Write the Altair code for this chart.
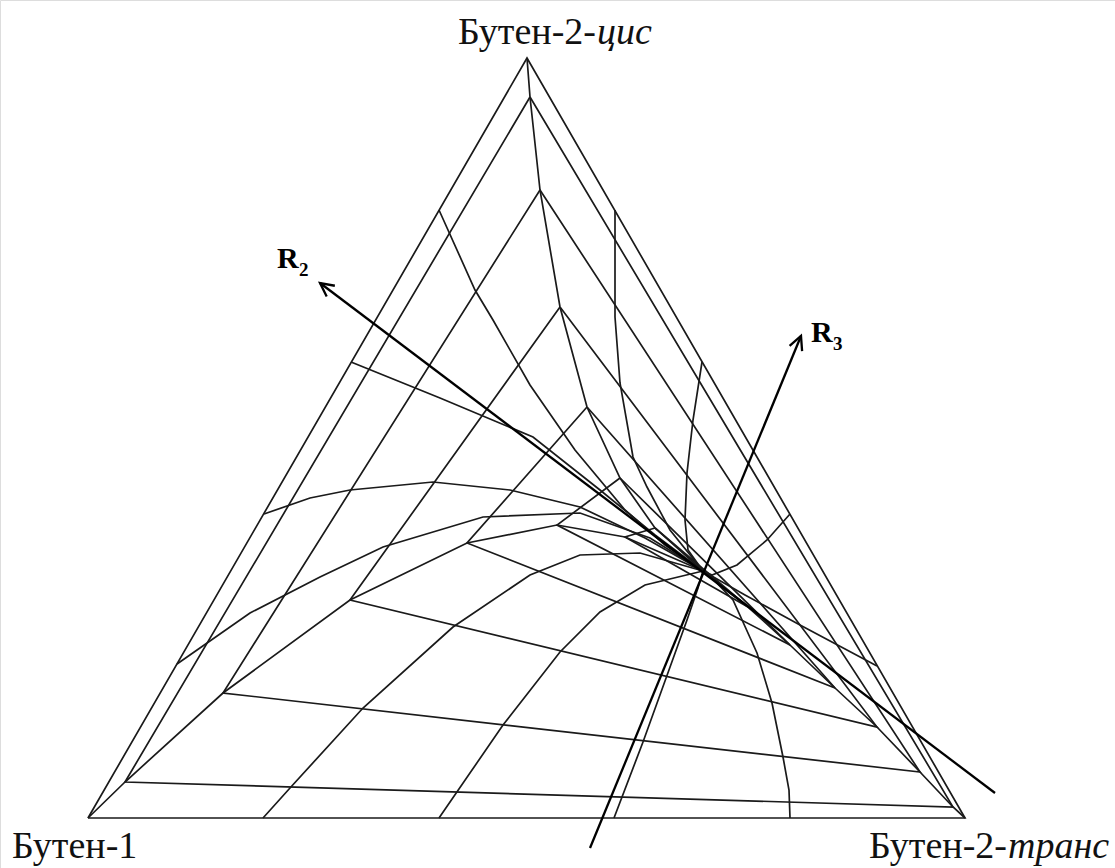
import math
import altair as alt
import pandas as pd

# Plane coordinates of the composition triangle: x to the right, y downward.
corner_b1 = (88, 818)      # Бутен-1
corner_cis = (527, 58)     # Бутен-2-цис
corner_trans = (965, 818)  # Бутен-2-транс
equilibrium = (703, 571)

outline = [corner_b1, corner_cis, corner_trans, corner_b1]

# Trajectories starting from the pure components
traj_cis = [(527, 58), (530, 97), (540, 190), (560, 307), (587, 407), (620, 478), (655, 528), (703, 571)]
traj_b1 = [(88, 818), (125, 782), (223, 693), (350, 600), (467, 543), (557, 525), (625, 537), (703, 571)]
traj_trans = [(965, 818), (953, 807), (920, 772), (877, 727), (835, 688), (790, 645), (748, 607), (703, 571)]

# Images of the triangle at successive moments (vertices lie on the three trajectories above)
iso_1 = [(530, 97), (125, 782), (953, 807), (530, 97)]
iso_2 = [(540, 190), (223, 693), (920, 772), (540, 190)]
iso_3 = [(560, 307), (350, 600), (877, 727), (560, 307)]
iso_4 = [(587, 407), (467, 543), (835, 688), (587, 407)]
iso_5 = [(620, 478), (557, 525), (790, 645), (620, 478)]
iso_6 = [(655, 528), (625, 537), (748, 607), (655, 528)]

# Trajectories from 20/40/60/80 % points of each side
left_20 = [(177, 664), (250, 613), (320, 577), (383, 547), (483, 517), (580, 513), (650, 538), (703, 571)]
left_40 = [(264, 514), (310, 498), (350, 490), (433, 482), (510, 490), (580, 507), (645, 538), (703, 571)]
left_60 = [(351, 362), (440, 398), (533, 437), (600, 490), (655, 535), (703, 571)]
left_80 = [(439, 210), (475, 290), (493, 320), (530, 385), (575, 450), (625, 510), (665, 545), (703, 571)]

right_20 = [(615, 210), (615, 317), (620, 383), (633, 457), (647, 487), (670, 530), (703, 571)]
right_40 = [(702, 362), (693, 420), (687, 473), (685, 520), (688, 550), (703, 571)]
right_60 = [(790, 514), (767, 540), (737, 565), (712, 575), (703, 571)]
right_80 = [(877, 666), (800, 625), (745, 595), (703, 571)]

base_20 = [(263, 818), (290, 788), (363, 708), (453, 627), (530, 575), (580, 555), (640, 553), (703, 571)]
base_40 = [(439, 818), (503, 725), (560, 652), (600, 612), (645, 585), (703, 571)]
base_60 = [(614, 818), (643, 742), (687, 620), (698, 588), (703, 571)]
base_80 = [(790, 818), (789, 790), (783, 757), (772, 703), (757, 653), (733, 600), (712, 578), (703, 571)]

# Straight-line reaction paths (eigen-directions), arrow at the last point
axis_r2 = [(995, 793), (320, 283)]
axis_r3 = [(590, 848), (801, 336)]

paths = {
    "outline": outline,
    "traj_cis": traj_cis, "traj_b1": traj_b1, "traj_trans": traj_trans,
    "iso_1": iso_1, "iso_2": iso_2, "iso_3": iso_3,
    "iso_4": iso_4, "iso_5": iso_5, "iso_6": iso_6,
    "left_20": left_20, "left_40": left_40, "left_60": left_60, "left_80": left_80,
    "right_20": right_20, "right_40": right_40, "right_60": right_60, "right_80": right_80,
    "base_20": base_20, "base_40": base_40, "base_60": base_60, "base_80": base_80,
}
axes_paths = {"R2": axis_r2, "R3": axis_r3}


def to_rows(named):
    rows = []
    for name, pts in named.items():
        for i, (x, y) in enumerate(pts):
            rows.append({"path": name, "i": i, "x": x, "y": y})
    return pd.DataFrame(rows)


lines_df = to_rows(paths)
axes_df = to_rows(axes_paths)

W, H = 1115, 868
xs = alt.Scale(domain=[0, W], range=[0, W], nice=False, zero=False)
ys = alt.Scale(domain=[0, H], range=[0, H], nice=False, zero=False)


def X(f="x"):
    return alt.X(f"{f}:Q", scale=xs, axis=None)


def Y(f="y"):
    return alt.Y(f"{f}:Q", scale=ys, axis=None)


grid = alt.Chart(lines_df).mark_line(color="#1a1a1a", strokeWidth=1.7, strokeJoin="miter").encode(
    x=X(), y=Y(), detail="path:N", order="i:Q"
)
axes = alt.Chart(axes_df).mark_line(color="#000000", strokeWidth=2.3).encode(
    x=X(), y=Y(), detail="path:N", order="i:Q"
)

# open arrowheads at the tips of R2 and R3
heads = []
for name, pts in axes_paths.items():
    (x0, y0), (x1, y1) = pts[0], pts[-1]
    ang = math.degrees(math.atan2(x1 - x0, -(y1 - y0))) % 360
    heads.append({"name": name, "x": x1, "y": y1, "angle": ang})
heads_df = pd.DataFrame(heads)
arrowheads = alt.Chart(heads_df).mark_point(
    shape="M -0.45 0.9 L 0 0 L 0.45 0.9", filled=False, size=900,
    stroke="#000000", strokeWidth=2.3, opacity=1
).encode(x=X(), y=Y(), angle=alt.Angle("angle:Q", scale=None))

# vertex labels: upright part and italic part
serif = "Liberation Serif"
label_size = 38
plain_right_df = pd.DataFrame([
    {"x": 596, "y": 44, "text": "Бутен-2-"},
    {"x": 1007, "y": 858, "text": "Бутен-2-"},
])
plain_left_df = pd.DataFrame([
    {"x": 12, "y": 858, "text": "Бутен-1"},
])
italic_df = pd.DataFrame([
    {"x": 597, "y": 44, "text": "цис"},
    {"x": 1008, "y": 858, "text": "транс"},
])

plain_right = alt.Chart(plain_right_df).mark_text(
    font=serif, fontSize=label_size, align="right", baseline="alphabetic", color="#111111"
).encode(x=X(), y=Y(), text="text:N")
plain_left = alt.Chart(plain_left_df).mark_text(
    font=serif, fontSize=label_size, align="left", baseline="alphabetic", color="#111111"
).encode(x=X(), y=Y(), text="text:N")
italic = alt.Chart(italic_df).mark_text(
    font=serif, fontSize=label_size, fontStyle="italic", align="left", baseline="alphabetic", color="#111111"
).encode(x=X(), y=Y(), text="text:N")

# R2 / R3 labels with subscripts
r_main = pd.DataFrame([{"x": 277, "y": 268, "text": "R"}, {"x": 811, "y": 342, "text": "R"}])
r_sub = pd.DataFrame([{"x": 299, "y": 276, "text": "2"}, {"x": 833, "y": 350, "text": "3"}])
r_text = alt.Chart(r_main).mark_text(
    font=serif, fontSize=30, fontWeight="bold", align="left", baseline="alphabetic", color="#000000"
).encode(x=X(), y=Y(), text="text:N")
r_subs = alt.Chart(r_sub).mark_text(
    font=serif, fontSize=19, fontWeight="bold", align="left", baseline="alphabetic", color="#000000"
).encode(x=X(), y=Y(), text="text:N")

chart = alt.layer(grid, axes, arrowheads, plain_right, plain_left, italic, r_text, r_subs).properties(
    width=W, height=H, autosize=alt.AutoSizeParams(type="none"), padding=0
).configure_view(stroke=None).configure(background="white")

chart.save("out.html", embed_options={"renderer": "svg", "actions": False})
